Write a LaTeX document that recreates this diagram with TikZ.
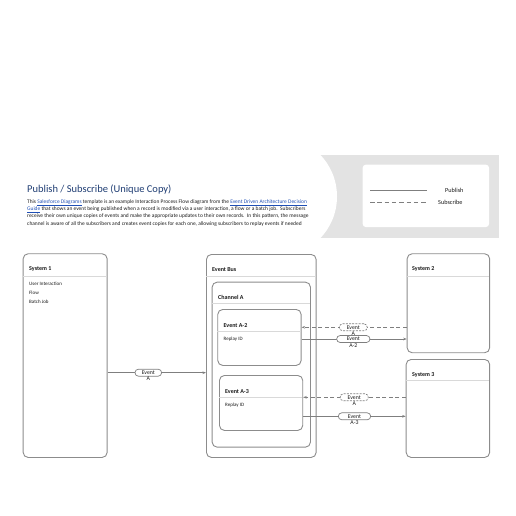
\documentclass[tikz,border=0pt]{standalone}
\usepackage{fontspec}
\setmainfont{Carlito}
\usetikzlibrary{arrows.meta}
\definecolor{bandgray}{HTML}{E3E3E3}
\definecolor{boxgray}{HTML}{8C8C8C}
\definecolor{sepgray}{HTML}{D9D9D9}
\definecolor{titleblue}{HTML}{1F3D73}
\definecolor{linkblue}{HTML}{1F4FB5}
\definecolor{txt}{HTML}{1A1A1A}
\definecolor{linegray}{HTML}{7F7F7F}
\tikzset{
  box/.style={draw=boxgray, line width=0.9pt, rounded corners=5pt, fill=white, anchor=north west, inner sep=0pt},
  hdr/.style={anchor=west, font=\fontsize{6}{7}\selectfont\bfseries, text=txt, inner sep=0pt},
  item/.style={anchor=west, font=\fontsize{5}{6}\selectfont, text=txt, inner sep=0pt},
  sepline/.style={draw=sepgray, line width=0.5pt},
  pub/.style={draw=linegray, line width=0.7pt, -{Stealth[length=3.5pt,width=2.6pt]}},
  sub/.style={draw=linegray, line width=0.7pt, dash pattern=on 4pt off 2.5pt, -{Stealth[length=3.5pt,width=2.6pt]}},
  pill/.style={draw=linegray, line width=0.7pt, fill=white, rounded corners=3.5pt, minimum height=7pt, inner sep=0pt, font=\fontsize{5.8}{6}\selectfont, text=txt},
  pilltxt/.style={font=\fontsize{5.8}{6}\selectfont, text=txt, inner sep=0pt}
}
\begin{document}
\begin{tikzpicture}[x=1pt,y=-1pt]
\useasboundingbox (0,0) rectangle (516,516);
% header band
\begin{scope}
\clip (0,155) rectangle (499,238);
\fill[bandgray] (250,155) rectangle (499,238);
\fill[white] (276.5,196.5) circle (60.5);
\end{scope}
% legend
\fill[white, rounded corners=3pt] (362.7,164.7) rectangle (489,227);
\coordinate (lp1) at (370,190.7);
\coordinate (lp2) at (427,190.7);
\coordinate (ls1) at (370,202);
\coordinate (ls2) at (427,202);
\draw[draw=linegray, line width=0.6pt] (lp1) -- (lp2);
\draw[draw=linegray, line width=0.6pt, dash pattern=on 4.5pt off 2.8pt] (ls1) -- (ls2);
\node[item, font=\fontsize{6.2}{7}\selectfont] (lgpub) at (445,190.7) {Publish};
\node[item, font=\fontsize{6.2}{7}\selectfont] (lgsub) at (438,202) {Subscribe};
% title
\node[anchor=base west, inner sep=0pt, font=\fontsize{10.5}{12}\selectfont, text=titleblue] (title) at (27,192.3) {Publish / Subscribe (Unique Copy)};
\node[anchor=north west, inner sep=0pt, align=left, font=\fontsize{5.45}{7.3}\selectfont, text=txt] (desc) at (27,199.3)
{This \textcolor{linkblue}{\underline{Salesforce Diagrams}} template is an example Interaction Process Flow diagram from the \textcolor{linkblue}{\underline{Event Driven Architecture Decision}}\\
\textcolor{linkblue}{\underline{Guide}} that shows an event being published when a record is modified via a user interaction, a flow or a batch job.\ \ Subscribers\\
receive their own unique copies of events and make the appropriate updates to their own records.\ \ In this pattern, the message\\
channel is aware of all the subscribers and creates event copies for each one, allowing subscribers to replay events if needed};
% System 1
\node[box, minimum width=84pt, minimum height=203.7pt] (sys1) at (22.7,253.3) {};
\node[hdr] (sys1h) at (29,269.5) {System 1};
\draw[sepline] (22.7,276.3) -- (106.7,276.3);
\node[item] (ui) at (29,283.3) {User Interaction};
\node[item] (fl) at (29,292.7) {Flow};
\node[item] (bj) at (29,302) {Batch Job};
% Event bus
\node[box, minimum width=109.7pt, minimum height=203pt] (bus) at (206,254) {};
\node[hdr] (bush) at (212,270) {Event Bus};
\draw[sepline] (206,276.3) -- (315.7,276.3);
\node[box, minimum width=98.3pt, minimum height=165pt] (cha) at (211.7,281.7) {};
\node[hdr] (chah) at (218,297.7) {Channel A};
\draw[sepline] (211.7,303.3) -- (310,303.3);
\node[box, minimum width=83.4pt, minimum height=56pt] (ev2) at (217.3,309) {};
\node[hdr] (ev2h) at (223.5,326) {Event A-2};
\draw[sepline] (217.3,331.2) -- (300.7,331.2);
\node[item] (ev2r) at (223.5,339.3) {Replay ID};
\node[box, minimum width=83.3pt, minimum height=55pt] (ev3) at (219,375) {};
\node[hdr] (ev3h) at (225,391.7) {Event A-3};
\draw[sepline] (219,396.9) -- (302.3,396.9);
\node[item] (ev3r) at (225,405) {Replay ID};
% System 2 & 3
\node[box, minimum width=82.5pt, minimum height=99pt] (sys2) at (406.7,253.3) {};
\node[hdr] (sys2h) at (412,269.5) {System 2};
\draw[sepline] (406.7,276.7) -- (489.2,276.7);
\node[box, minimum width=83.5pt, minimum height=98pt] (sys3) at (405.7,359) {};
\node[hdr] (sys3h) at (412,374.7) {System 3};
\draw[sepline] (405.7,380.7) -- (489.2,380.7);
% connectors
\coordinate (yA) at (0,372.7);
\coordinate (y2s) at (0,327.3);
\coordinate (y2p) at (0,339);
\coordinate (y3s) at (0,397.3);
\coordinate (y3p) at (0,416.3);
\draw[pub] (sys1.east |- yA) -- (bus.west |- yA);
\draw[sub] (sys2.west |- y2s) -- (ev2.east |- y2s);
\draw[pub] (ev2.east |- y2p) -- (sys2.west |- y2p);
\draw[sub] (sys3.west |- y3s) -- (ev3.east |- y3s);
\draw[pub] (ev3.east |- y3p) -- (sys3.west |- y3p);
% pills
\node[pill, minimum width=26.7pt] (pA) at (148.3,372.7) {Event};
\node[pilltxt, below=0.2pt] (pAl) at (pA.south) {A};
\node[pill, dash pattern=on 2pt off 1.2pt, minimum width=28pt] (p2s) at (353.3,327.3) {Event};
\node[pilltxt, below=0.2pt] (p2sl) at (p2s.south) {A};
\node[pill, minimum width=33.3pt] (p2p) at (353.3,339) {Event};
\node[pilltxt, below=0.2pt] (p2pl) at (p2p.south) {A-2};
\node[pill, dash pattern=on 2pt off 1.2pt, minimum width=28.3pt] (p3s) at (354.2,397.3) {Event};
\node[pilltxt, below=0.2pt] (p3sl) at (p3s.south) {A};
\node[pill, minimum width=32.4pt] (p3p) at (354.5,416.3) {Event};
\node[pilltxt, below=0.2pt] (p3pl) at (p3p.south) {A-3};
\end{tikzpicture}
\end{document}
